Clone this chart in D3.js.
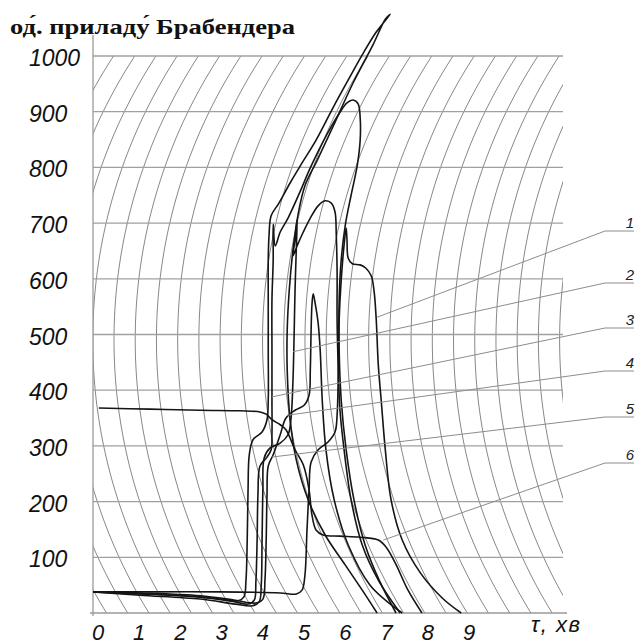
<!DOCTYPE html>
<html>
<head>
<meta charset="utf-8">
<script src="https://cdn.jsdelivr.net/npm/d3@7"></script>
<style>
  body { margin: 0; background: #fff; }
  svg { display: block; }
</style>
</head>
<body>
<svg id="chart" width="636" height="644"></svg>
<script>
// Axis tick values
const timeTicks = [0, 1, 2, 3, 4, 5, 6, 7, 8, 9];
const valueTicks = [100, 200, 300, 400, 500, 600, 700, 800, 900, 1000];
const seriesLabels = ["1", "2", "3", "4", "5", "6"];

// Viscosity curves: [time, min ; Brabender units]
const curve1 = [[-0.12,38],[1.26,38],[2.96,38],[4.42,36],[4.81,34],[4.95,41],[5.02,68],[5.07,149],[5.12,221],[5.17,271],[5.34,293],[5.58,307],[5.75,325],[5.80,355],[5.83,436],[5.85,526],[5.90,598],[5.97,661],[6.02,691],[6.04,670],[6.07,637],[6.17,627],[6.36,625],[6.50,619],[6.63,605],[6.70,576],[6.75,526],[6.80,445],[6.87,382],[6.97,293],[7.11,203],[7.38,131],[7.82,72],[8.35,27],[8.81,0]];
const curve2 = [[-0.12,38],[1.02,32],[2.48,25],[3.33,16],[3.74,13],[3.91,20],[3.96,50],[3.98,131],[4.00,221],[4.03,278],[4.17,296],[4.42,305],[4.61,320],[4.68,347],[4.73,418],[4.76,508],[4.78,580],[4.81,652],[4.83,706],[4.78,670],[4.73,641],[4.83,659],[4.98,684],[5.15,709],[5.34,731],[5.51,740],[5.66,736],[5.75,720],[5.78,679],[5.80,616],[5.80,526],[5.83,436],[5.87,364],[5.97,293],[6.14,203],[6.41,122],[6.80,59],[7.33,0]];
const curve3 = [[-0.12,38],[0.78,36],[1.99,31],[2.96,25],[3.40,22],[3.54,29],[3.59,59],[3.62,131],[3.64,221],[3.67,284],[3.76,311],[3.98,325],[4.10,347],[4.13,382],[4.13,472],[4.13,562],[4.13,634],[4.15,679],[4.20,713],[4.39,736],[4.66,772],[4.95,808],[5.29,849],[5.70,907],[6.07,957],[6.41,1002],[6.75,1043],[7.09,1075],[6.97,1066],[6.67,1020],[6.19,952],[5.70,873],[5.32,813],[5.02,767],[4.85,714],[4.73,652],[4.64,580],[4.59,508],[4.59,436],[4.66,347],[4.81,275],[5.10,203],[5.51,140],[6.00,86],[6.41,41],[6.77,0]];
const curve4 = [[-0.12,38],[1.02,36],[2.48,31],[3.33,23],[3.83,18],[4.00,25],[4.05,59],[4.08,131],[4.10,212],[4.13,264],[4.25,284],[4.42,320],[4.56,350],[4.78,364],[5.00,373],[5.12,391],[5.15,436],[5.17,508],[5.19,553],[5.22,573],[5.27,555],[5.34,521],[5.39,472],[5.44,382],[5.53,293],[5.73,203],[6.07,122],[6.60,50],[7.38,0]];
const curve5 = [[-0.12,38],[1.02,34],[2.48,29],[3.33,20],[3.64,16],[3.79,23],[3.83,56],[3.86,131],[3.88,212],[3.93,264],[4.08,278],[4.20,293],[4.22,320],[4.22,382],[4.22,472],[4.22,562],[4.25,634],[4.25,698],[4.30,659],[4.42,684],[4.61,709],[4.90,756],[5.15,799],[5.56,860],[5.87,899],[6.04,916],[6.19,921],[6.31,914],[6.36,889],[6.36,849],[6.29,804],[6.14,750],[6.00,697],[5.90,634],[5.85,562],[5.85,472],[5.90,382],[6.02,293],[6.21,203],[6.48,122],[6.82,59],[7.23,0]];
const curve6 = [[0.02,368],[1.26,366],[2.48,364],[3.45,363],[3.93,361],[4.08,357],[4.22,347],[4.42,338],[4.56,329],[4.78,293],[4.98,266],[5.12,221],[5.19,176],[5.29,149],[5.46,140],[5.87,138],[6.36,136],[6.80,131],[6.99,118],[7.21,90],[7.52,41],[7.86,0]];
const curves = [curve1, curve2, curve3, curve4, curve5, curve6];

// Points where each numbered leader meets its curve [time, BU]
const leaderTargets = [[6.77,531],[4.73,469],[4.22,388],[4.59,355],[4.22,280],[6.92,131]];

const svg = d3.select("#chart");
const x = d3.scaleLinear().domain([0, 9]).range([98, 469]);
const y = d3.scaleLinear().domain([0, 1000]).range([613, 56]);

const plotLeft = 93, plotRight = 563, plotTop = y(1000), plotBottom = y(0);
const gridColor = "#8c8c8c";

// Chart paper: arcs traced by the recorder pen arm
svg.append("clipPath").attr("id", "paper")
  .append("rect").attr("x", plotLeft).attr("y", plotTop)
  .attr("width", plotRight - plotLeft).attr("height", plotBottom - plotTop);

const R = 520, cy = 340, arcStart = 114, arcStep = 21.22;
const bend = py => R - Math.sqrt(R * R - (py - cy) * (py - cy));
const rawLine = d3.line();
const arcs = svg.append("g").attr("clip-path", "url(#paper)");
for (let k = -6; k <= 21; k++) {
  const vx = arcStart + k * arcStep;
  const ys = d3.range(plotTop, plotBottom, 3).concat([plotBottom]);
  arcs.append("path")
    .attr("d", rawLine(ys.map(py => [vx + bend(py), py])))
    .attr("fill", "none")
    .attr("stroke", "#7a7a7a")
    .attr("stroke-width", 0.9);
}

// Horizontal value lines
svg.append("g").selectAll("line").data(valueTicks).join("line")
  .attr("x1", plotLeft).attr("x2", plotRight)
  .attr("y1", d => y(d)).attr("y2", d => y(d))
  .attr("stroke", "#a0a0a0").attr("stroke-width", 1.3);

// Axes
svg.append("line").attr("x1", plotLeft).attr("x2", plotLeft).attr("y1", 35).attr("y2", 616)
  .attr("stroke", "#9a9a9a").attr("stroke-width", 1.3);
svg.append("line").attr("x1", 90).attr("x2", 567).attr("y1", plotBottom).attr("y2", plotBottom)
  .attr("stroke", "#9a9a9a").attr("stroke-width", 1.3);

// Curves
const line = d3.line()
  .x(d => x(d[0]))
  .y(d => y(d[1]))
  .curve(d3.curveCatmullRom.alpha(0.5));

svg.append("g").selectAll("path").data(curves).join("path")
  .attr("d", line)
  .attr("fill", "none")
  .attr("stroke", "#151515")
  .attr("stroke-width", 1.6)
  .attr("stroke-linejoin", "round");

// Numbered leaders, one row per label on the right margin
const labelRowY = [231, 283, 328, 371, 417, 463];
const leaderX = 605, leaderEnd = 634;
const leaders = svg.append("g");
leaderTargets.forEach((p, i) => {
  leaders.append("polyline")
    .attr("points", [[x(p[0]), y(p[1])], [leaderX, labelRowY[i]], [leaderEnd, labelRowY[i]]].map(q => q.join(",")).join(" "))
    .attr("fill", "none")
    .attr("stroke", gridColor)
    .attr("stroke-width", 1);
  leaders.append("text")
    .attr("x", 630).attr("y", labelRowY[i] - 3)
    .attr("text-anchor", "middle")
    .attr("font-family", "Liberation Sans, Arial, sans-serif")
    .attr("font-style", "italic")
    .attr("font-size", 15)
    .attr("fill", "#222")
    .text(seriesLabels[i]);
});

// Tick labels
const tickFont = "Liberation Sans, Arial, sans-serif";
svg.append("g").selectAll("text").data(valueTicks).join("text")
  .attr("x", 29).attr("y", d => y(d) + 10)
  .attr("font-family", tickFont).attr("font-style", "italic")
  .attr("font-size", 23).attr("fill", "#111")
  .text(d => d);

svg.append("g").selectAll("text").data(timeTicks).join("text")
  .attr("x", d => x(d)).attr("y", 640)
  .attr("text-anchor", "middle")
  .attr("font-family", tickFont).attr("font-style", "italic")
  .attr("font-size", 22).attr("fill", "#111")
  .text(d => d);

svg.append("text")
  .attr("x", 531).attr("y", 632)
  .attr("font-family", tickFont).attr("font-style", "italic")
  .attr("font-size", 22).attr("letter-spacing", 1.5).attr("fill", "#111")
  .text("τ, хв");

// Axis title
svg.append("text")
  .attr("x", 10).attr("y", 34)
  .attr("font-family", "Liberation Serif, Times New Roman, serif")
  .attr("font-weight", "bold")
  .attr("font-size", 22)
  .attr("textLength", 285)
  .attr("lengthAdjust", "spacingAndGlyphs")
  .attr("fill", "#111")
  .text("од\u0301. приладу\u0301 Брабендера");
</script>
</body>
</html>
